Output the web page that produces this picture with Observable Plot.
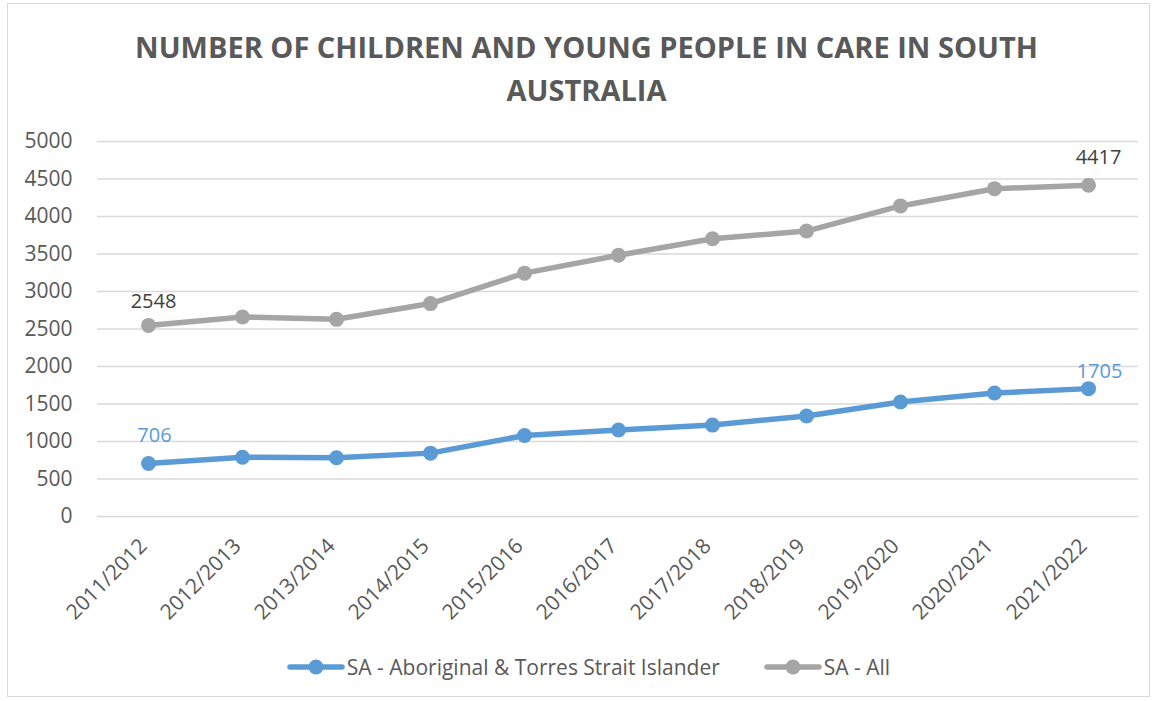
<!DOCTYPE html>
<html><head><meta charset="utf-8">
<script src="https://cdn.jsdelivr.net/npm/d3@7"></script>
<script src="https://cdn.jsdelivr.net/npm/@observablehq/plot@0.6"></script>
<style>
body{margin:0;background:#fff;font-family:"Open Sans",sans-serif;}
#frame{position:relative;width:1157px;height:701px;overflow:hidden;background:#fff}
#border{position:absolute;left:7px;top:3px;width:1143px;height:694px;border:1px solid #d9d9d9;box-sizing:border-box}
#title{position:absolute;top:25px;left:8px;width:1157px;text-align:center;color:#595959;font-weight:bold;font-size:29px;line-height:43px}
#chart{position:absolute;top:120px;left:0}
#legend{position:absolute;top:652px;left:10px;width:1157px;height:30px;display:flex;justify-content:center;align-items:center;gap:44px;color:#595959;font-size:21px}
.item{display:flex;align-items:center;gap:2px}
</style></head>
<body>
<div id="frame">
<div id="border"></div>
<div id="title">NUMBER OF CHILDREN AND YOUNG PEOPLE IN CARE IN SOUTH<br>AUSTRALIA</div>
<div id="chart"></div>
<div id="legend"></div>
</div>
<script>
const years = ["2011/2012","2012/2013","2013/2014","2014/2015","2015/2016","2016/2017","2017/2018","2018/2019","2019/2020","2020/2021","2021/2022"];
const aboriginal = [706, 790, 783, 845, 1080, 1154, 1219, 1340, 1527, 1646, 1705];
const all = [2548, 2660, 2629, 2839, 3245, 3483, 3704, 3806, 4141, 4371, 4417];
const seriesNames = ["SA - Aboriginal & Torres Strait Islander", "SA - All"];
const seriesColors = ["#5B9BD5", "#A5A5A5"];
const yTicks = [0,500,1000,1500,2000,2500,3000,3500,4000,4500,5000];

const data = [];
years.forEach((y,i)=>{
  data.push({year:y, value:aboriginal[i], series:seriesNames[0], idx:i});
  data.push({year:y, value:all[i], series:seriesNames[1], idx:i});
});
const last = years.length-1;
const pick = (s, i) => data.filter(d => d.series === seriesNames[s] && d.idx === i);
const lbl = (arr, fill, dx, dy) => Plot.text(arr, {x:"year", y:"value", text:d=>String(d.value), dx, dy, fill, fontSize:20});

const chart = Plot.plot({
  width: 1157,
  height: 520,
  marginLeft: 97,
  marginRight: 19,
  marginTop: 21,
  marginBottom: 124,
  style:{fontFamily:"'Open Sans',sans-serif", fontSize:"21px", color:"#595959", background:"transparent", overflow:"visible"},
  x:{type:"point", domain:years, padding:0.5, label:null},
  y:{domain:[0,5000], label:null},
  color:{domain:seriesNames, range:seriesColors},
  marks:[
    Plot.gridY(yTicks, {stroke:"#d9d9d9", strokeOpacity:1, strokeWidth:1.3}),
    Plot.axisY({ticks:yTicks, tickFormat:d=>String(d), tickSize:0, tickPadding:25, label:null, fontSize:21}),
    Plot.axisX({tickSize:0, tickRotate:-45, tickPadding:26, dx:-5, label:null, fontSize:21}),
    Plot.line(data, {x:"year", y:"value", stroke:"series", z:"series", strokeWidth:5.5}),
    Plot.dot(data, {x:"year", y:"value", fill:"series", r:7.5}),
    lbl(pick(1,0), "#404040", 5, -23.5),
    lbl(pick(1,last), "#404040", 10, -27.5),
    lbl(pick(0,0), seriesColors[0], 6, -27.5),
    lbl(pick(0,last), seriesColors[0], 11, -17.5)
  ]
});
document.getElementById("chart").appendChild(chart);

const legend = document.getElementById("legend");
seriesNames.forEach((name,i)=>{
  const item = document.createElement("div");
  item.className="item";
  const sw = d3.create("svg").attr("width",58).attr("height",20);
  sw.append("line").attr("x1",3).attr("x2",55).attr("y1",10).attr("y2",10).attr("stroke",seriesColors[i]).attr("stroke-width",5.5).attr("stroke-linecap","round");
  sw.append("circle").attr("cx",29).attr("cy",10).attr("r",7.5).attr("fill",seriesColors[i]);
  item.appendChild(sw.node());
  const t = document.createElement("span");
  t.textContent = name;
  item.appendChild(t);
  legend.appendChild(item);
});
</script>
</body></html>
